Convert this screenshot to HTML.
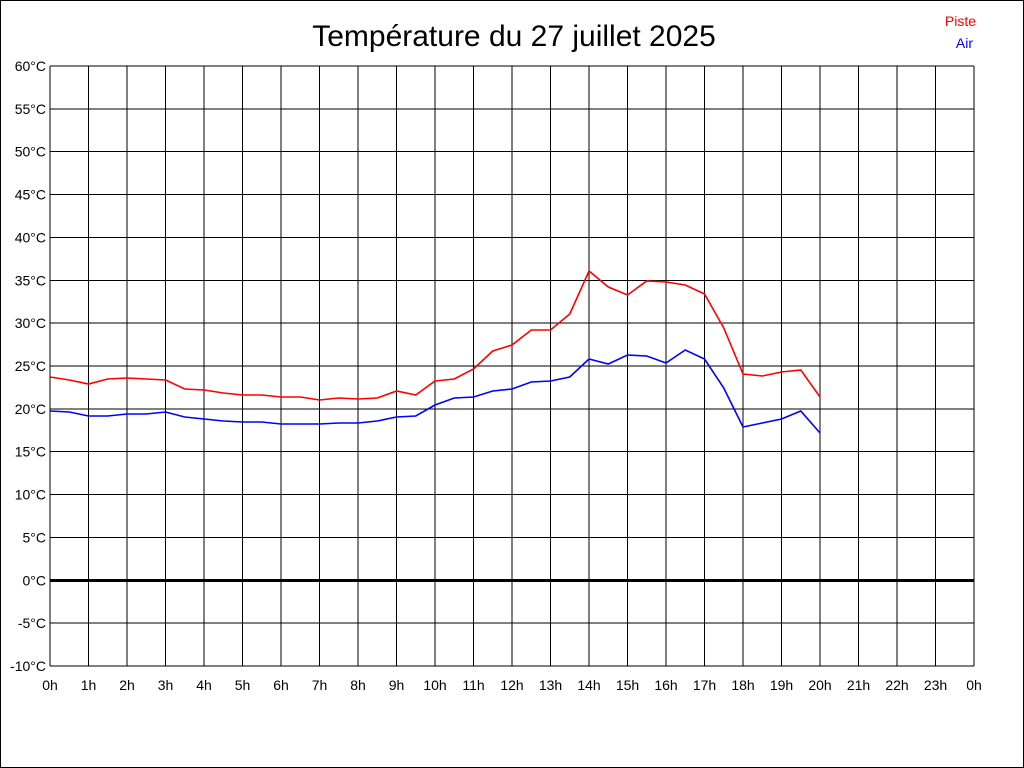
<!DOCTYPE html>
<html><head><meta charset="utf-8"><style>body{margin:0;background:#fff}svg{display:block}</style></head><body>
<svg width="1024" height="768" xmlns="http://www.w3.org/2000/svg" font-family="Liberation Sans, sans-serif">
<rect x="0.5" y="0.5" width="1023" height="767" fill="#fff" stroke="#000"/>
<text x="514" y="46" font-size="30" text-anchor="middle">Température du 27 juillet 2025</text>
<text x="976" y="26" font-size="14" fill="#f00" text-anchor="end">Piste</text>
<text x="973" y="48" font-size="14" fill="#00f" text-anchor="end">Air</text>
<g id="grid" stroke="#000" stroke-width="1" shape-rendering="crispEdges"></g>
<g id="lab" font-size="14"></g>
<polyline id="red" fill="none" stroke="#f00" stroke-width="1.6"/>
<polyline id="blue" fill="none" stroke="#00f" stroke-width="1.6"/>
</svg>
<script>
var g=document.getElementById('grid'),l=document.getElementById('lab'),s='',t='';
for(var i=0;i<=24;i++){var x=50+i*38.5;s+='<line x1="'+x+'" y1="66" x2="'+x+'" y2="666"/>';t+='<text x="'+x+'" y="690" text-anchor="middle">'+(i%24)+'h</text>';}
for(var j=0;j<=14;j++){var v=60-5*j,y=66+j*600/14;s+='<line x1="50" y1="'+y+'" x2="974" y2="'+y+'"'+(v==0?' stroke-width="3"':'')+'/>';t+='<text x="46" y="'+(y+5)+'" text-anchor="end">'+v+'°C</text>';}
g.innerHTML=s;l.innerHTML=t;
var R=[377,380,384,379,378,379,380,389,390,393,395,395,397,397,400,398,399,398,391,395,381,379,369,351,345,330,330,314,271,287,295,281,282,285,294,328,374,376,372,370,397];
var B=[411,412,416,416,414,414,412,417,419,421,422,422,424,424,424,423,423,421,417,416,405,398,397,391,389,382,381,377,359,364,355,356,363,350,359,388,427,423,419,411,433];
function p(a){return a.map(function(y,i){return (50+i*19.25)+','+y}).join(' ')}
document.getElementById('red').setAttribute('points',p(R));
document.getElementById('blue').setAttribute('points',p(B));
</script>
</body></html>
